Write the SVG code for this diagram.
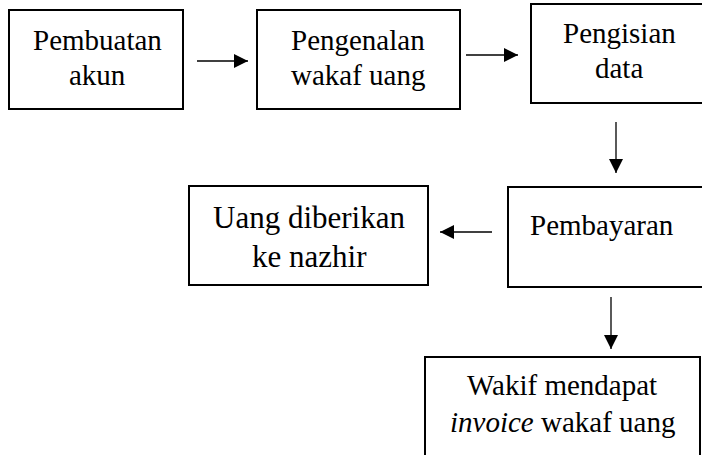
<svg xmlns="http://www.w3.org/2000/svg" width="702" height="455" viewBox="0 0 702 455">
<defs>
<marker id="ah" markerUnits="userSpaceOnUse" markerWidth="16" markerHeight="16" viewBox="0 0 16 16" refX="15" refY="8" orient="auto">
<path d="M1,1 L15,8 L1,15 Z" fill="#000"/>
</marker>
</defs>
<rect width="702" height="455" fill="#fff"/>
<g id="n1"><rect fill="#fff" stroke="#000" stroke-width="2" x="9" y="10" width="174" height="99"/><text x="33" y="50" font-size="29" font-family="Liberation Serif">Pembuatan</text><text x="69" y="85" font-size="29" font-family="Liberation Serif">akun</text></g>
<g id="n2"><rect fill="#fff" stroke="#000" stroke-width="2" x="257" y="10" width="203" height="99"/><text x="291" y="50" font-size="29" font-family="Liberation Serif">Pengenalan</text><text x="291" y="85" font-size="29" font-family="Liberation Serif">wakaf uang</text></g>
<g id="n3"><rect fill="#fff" stroke="#000" stroke-width="2" x="531" y="4" width="180" height="99"/><text x="563" y="43" font-size="29" font-family="Liberation Serif">Pengisian</text><text x="595" y="78" font-size="29" font-family="Liberation Serif">data</text></g>
<g id="n4"><rect fill="#fff" stroke="#000" stroke-width="2" x="508" y="187" width="203" height="100"/><text x="530" y="235" font-size="29" font-family="Liberation Serif">Pembayaran</text></g>
<g id="n5"><rect fill="#fff" stroke="#000" stroke-width="2" x="189" y="186" width="239" height="99"/><text x="213" y="228" font-size="31" font-family="Liberation Serif">Uang diberikan</text><text x="252" y="267" font-size="31" font-family="Liberation Serif">ke nazhir</text></g>
<g id="n6"><rect fill="#fff" stroke="#000" stroke-width="2" x="425" y="357" width="275" height="105"/><text x="467" y="395" font-size="29" font-family="Liberation Serif">Wakif mendapat</text><text x="450" y="432" font-size="29" font-family="Liberation Serif"><tspan font-style="italic">invoice</tspan> wakaf uang</text></g>
<g id="connectors" stroke="#000" stroke-width="1.3" fill="none" marker-end="url(#ah)">
<path d="M197,61 H248"/>
<path d="M466,55 H518"/>
<path d="M616,122 V173"/>
<path d="M492,232 H440"/>
<path d="M611,297 V349"/>
</g>
</svg>
